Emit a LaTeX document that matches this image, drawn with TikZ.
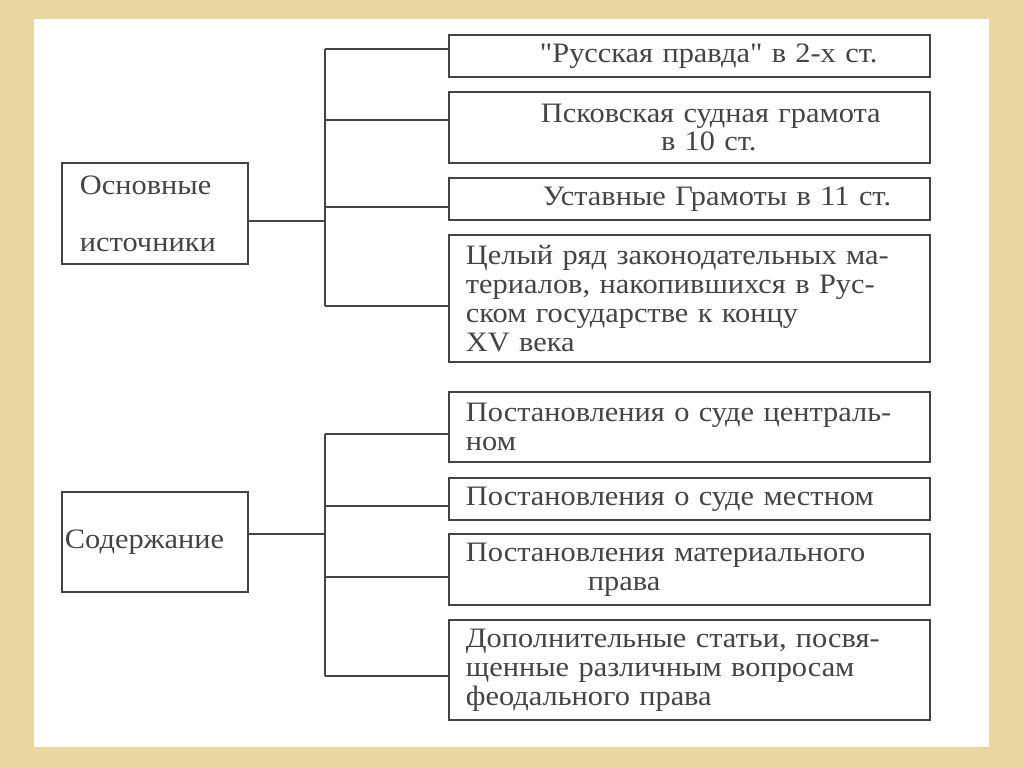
\documentclass[tikz,border=0pt]{standalone}
\usepackage{fontspec}
\setmainfont{Liberation Serif}[FakeStretch=1.08, Ligatures=TeXOff]
\usepackage{tikz}
\usetikzlibrary{positioning,calc}
\definecolor{frame}{RGB}{234,214,160}
\definecolor{ink}{RGB}{68,68,68}
\newcommand{\boxfont}{\fontsize{20}{20.6}\selectfont}
\tikzset{
  mainbox/.style = {rectangle, draw=ink, line width=1.4pt, text=ink, font=\boxfont,
                    minimum width=4.65cm, align=left},
  subbox/.style  = {rectangle, draw=ink, line width=1.4pt, text=ink, font=\boxfont,
                    inner xsep=0.425cm, inner ysep=0pt, text width=11.175cm, align=left},
  link/.style    = {draw=ink, line width=1.4pt},
}

\begin{document}
\begin{tikzpicture}[x=0.025cm, y=-0.025cm]

%── frame ──────────────────────────────────────────────────────
\useasboundingbox (0,0) rectangle (1024,767);
\fill[frame] (0,0) rectangle (1024,767);
\fill[white] (34,19) rectangle (989,747);

%── (a) Основные источники ─────────────────────────────────────
\node[mainbox, minimum height=2.525cm, inner xsep=0.45cm, text width=3.75cm]
  (src) at (155,213.5) {Основные\\[20pt]источники};
\node[subbox, minimum height=1.05cm]  (s1) at (689.5,56)
  {\hspace*{1.85cm}"Русская правда" в 2-х ст.};
\node[subbox, minimum height=1.775cm] (s2) at (689.5,127.5)
  {\hspace*{1.875cm}Псковская судная грамота\\\hspace*{4.875cm}в 10 ст.};
\node[subbox, minimum height=1.05cm]  (s3) at (689.5,199)
  {\hspace*{1.925cm}Уставные Грамоты в 11 ст.};
\node[subbox, minimum height=3.175cm] (s4) at (689.5,298.5)
  {Целый ряд законодательных ма-\\териалов, накопившихся в Рус-\\ском государстве к концу\\XV века};
% trunk and branches
\coordinate (sj) at (325,221);
\coordinate (sb1) at (325,49);
\coordinate (sb2) at (325,120);
\coordinate (sb3) at (325,207);
\coordinate (sb4) at (325,306);
\draw[link] (src.east |- sj) -- (sj);
\draw[link] (sb1) -- (sb4);
\foreach \i in {1,...,4}
  \draw[link] (sb\i) -- (s\i.west |- sb\i);

%── (b) Содержание ─────────────────────────────────────────────
\node[mainbox, minimum height=2.5cm, inner xsep=0.075cm, text width=4.5cm]
  (cont) at (155,542) {Содержание};
\node[subbox, minimum height=1.75cm]  (c1) at (689.5,427)
  {Постановления о суде централь-\\ном};
\node[subbox, minimum height=1.05cm]  (c2) at (689.5,499)
  {Постановления о суде местном};
\node[subbox, minimum height=1.775cm] (c3) at (689.5,569.5)
  {Постановления материального\\\hspace*{3.05cm}права};
\node[subbox, minimum height=2.5cm]   (c4) at (689.5,670)
  {Дополнительные статьи, посвя-\\щенные различным вопросам\\феодального права};
% trunk and branches
\coordinate (cj) at (325,534);
\coordinate (cb1) at (325,434);
\coordinate (cb2) at (325,506);
\coordinate (cb3) at (325,577);
\coordinate (cb4) at (325,676);
\draw[link] (cont.east |- cj) -- (cj);
\draw[link] (cb1) -- (cb4);
\foreach \i in {1,...,4}
  \draw[link] (cb\i) -- (c\i.west |- cb\i);

\end{tikzpicture}
\end{document}
